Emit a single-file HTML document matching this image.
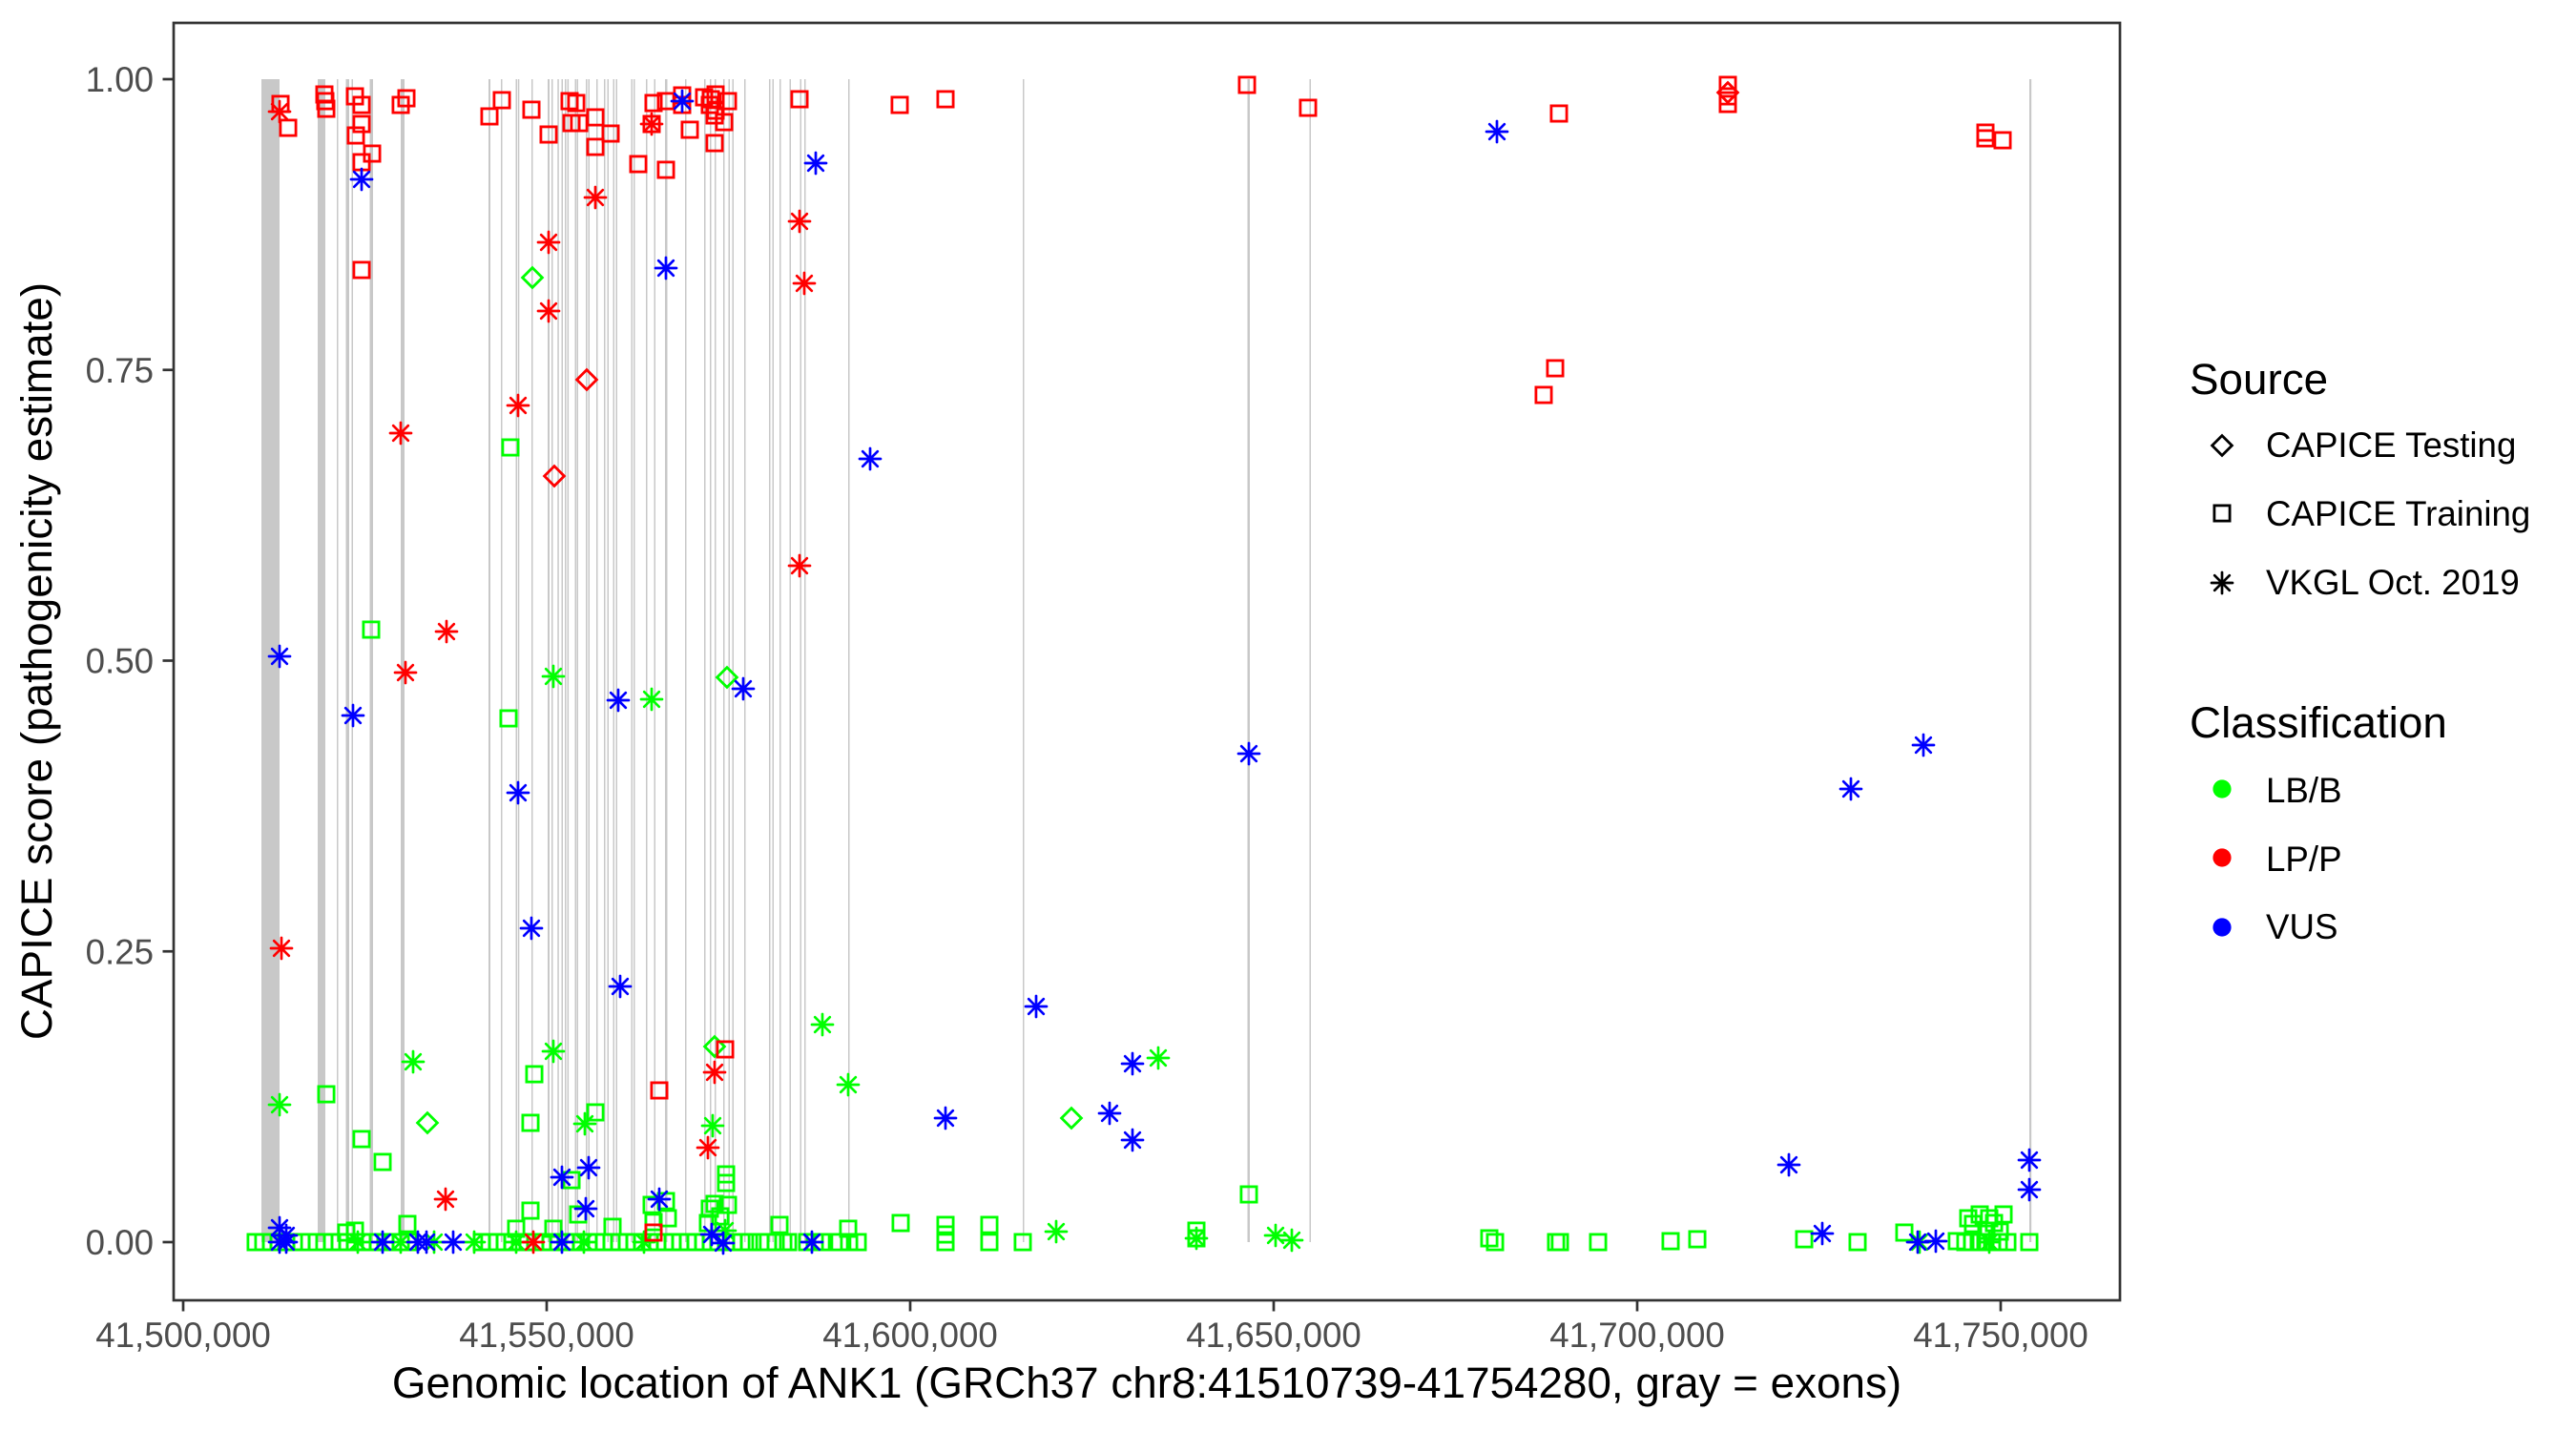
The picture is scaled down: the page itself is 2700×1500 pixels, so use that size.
<!DOCTYPE html>
<html><head><meta charset="utf-8"><style>
html,body{margin:0;padding:0;background:#fff}
svg{display:block}
.g{stroke:#00ff00}.r{stroke:#ff0000}.b{stroke:#0000ff}.k{stroke:#000}
text{font-family:"Liberation Sans",Arial,sans-serif}
</style></head><body>
<svg width="2700" height="1500" viewBox="0 0 2700 1500" xmlns="http://www.w3.org/2000/svg" xmlns:xlink="http://www.w3.org/1999/xlink">
<defs>
<rect id="S" x="-8.1" y="-8.1" width="16.2" height="16.2" fill="none" stroke-width="2.8"/>
<path id="D" d="M0,-10.4L10.4,0L0,10.4L-10.4,0Z" fill="none" stroke-width="2.8" stroke-linejoin="miter"/>
<path id="A" d="M0,-11V11M-11,0H11M-7.8,-7.8L7.8,7.8M-7.8,7.8L7.8,-7.8" fill="none" stroke-width="2.7" stroke-linecap="round"/>
</defs>
<rect width="2700" height="1500" fill="#fff"/>
<g fill="#c8c8c8">
<rect x="274" y="83" width="19" height="1219"/>
<rect x="333" y="83" width="8" height="1219"/>
<rect x="353" y="83" width="1.5" height="1219"/>
<rect x="362.5" y="83" width="3.5" height="1219"/>
<rect x="368.5" y="83" width="1.5" height="1219"/>
<rect x="387.5" y="83" width="3.5" height="1219"/>
<rect x="420" y="83" width="4" height="1219"/>
<rect x="512" y="83" width="2" height="1219"/>
<rect x="525" y="83" width="1.5" height="1219"/>
<rect x="540.5" y="83" width="1.5" height="1219"/>
<rect x="542.8" y="83" width="1.5" height="1219"/>
<rect x="557" y="83" width="1.5" height="1219"/>
<rect x="574" y="83" width="2" height="1219"/>
<rect x="578" y="83" width="1.5" height="1219"/>
<rect x="584.3" y="83" width="1.5" height="1219"/>
<rect x="588.5" y="83" width="1.5" height="1219"/>
<rect x="592" y="83" width="1.5" height="1219"/>
<rect x="594.6" y="83" width="1.5" height="1219"/>
<rect x="602.5" y="83" width="1.5" height="1219"/>
<rect x="604.5" y="83" width="1.5" height="1219"/>
<rect x="614" y="83" width="1.5" height="1219"/>
<rect x="616.5" y="83" width="1.5" height="1219"/>
<rect x="625" y="83" width="1.5" height="1219"/>
<rect x="633" y="83" width="1.5" height="1219"/>
<rect x="636.5" y="83" width="1.5" height="1219"/>
<rect x="642.5" y="83" width="1.5" height="1219"/>
<rect x="645.5" y="83" width="1.5" height="1219"/>
<rect x="661.5" y="83" width="1.5" height="1219"/>
<rect x="664" y="83" width="1.5" height="1219"/>
<rect x="677" y="83" width="1.5" height="1219"/>
<rect x="685.5" y="83" width="1.5" height="1219"/>
<rect x="697" y="83" width="2.5" height="1219"/>
<rect x="718" y="83" width="1.5" height="1219"/>
<rect x="738" y="83" width="1.5" height="1219"/>
<rect x="744" y="83" width="1.5" height="1219"/>
<rect x="749" y="83" width="1.5" height="1219"/>
<rect x="758" y="83" width="1.5" height="1219"/>
<rect x="763.5" y="83" width="1.5" height="1219"/>
<rect x="767.5" y="83" width="1.5" height="1219"/>
<rect x="780" y="83" width="1.5" height="1219"/>
<rect x="806" y="83" width="1.5" height="1219"/>
<rect x="809.5" y="83" width="1.5" height="1219"/>
<rect x="817" y="83" width="1.5" height="1219"/>
<rect x="827.5" y="83" width="1.5" height="1219"/>
<rect x="838.5" y="83" width="1.5" height="1219"/>
<rect x="843" y="83" width="1.5" height="1219"/>
<rect x="889" y="83" width="1.5" height="1219"/>
<rect x="1072" y="83" width="1.5" height="1219"/>
<rect x="1307.5" y="83" width="2.5" height="1219"/>
<rect x="1372.5" y="83" width="1.5" height="1219"/>
<rect x="2127" y="83" width="2.2" height="1219"/>
</g>
<g class="g">
<use href="#S" x="535" y="469"/><use href="#S" x="533" y="753"/><use href="#S" x="389" y="660"/><use href="#S" x="342" y="1147"/><use href="#S" x="379" y="1194"/><use href="#S" x="401" y="1218"/><use href="#S" x="560" y="1126"/><use href="#S" x="556" y="1177"/><use href="#S" x="624" y="1166"/><use href="#S" x="599" y="1237"/><use href="#S" x="556" y="1269"/><use href="#S" x="606" y="1273"/><use href="#S" x="761" y="1231"/><use href="#S" x="761" y="1240"/><use href="#S" x="763" y="1263"/><use href="#S" x="744" y="1267"/><use href="#S" x="749" y="1262"/><use href="#S" x="755" y="1275"/><use href="#S" x="742" y="1282"/><use href="#S" x="683" y="1263"/><use href="#S" x="698" y="1259"/><use href="#S" x="700" y="1277"/><use href="#S" x="685" y="1281"/><use href="#S" x="642" y="1286"/><use href="#S" x="817" y="1284"/><use href="#S" x="889" y="1288"/><use href="#S" x="944" y="1282"/><use href="#S" x="991" y="1284"/><use href="#S" x="991" y="1294"/><use href="#S" x="427" y="1283"/><use href="#S" x="363" y="1292"/><use href="#S" x="372" y="1290"/><use href="#S" x="541" y="1288"/><use href="#S" x="580" y="1288"/><use href="#S" x="1309" y="1252"/><use href="#S" x="1254" y="1290"/><use href="#S" x="1254" y="1298"/><use href="#S" x="1561" y="1298"/><use href="#S" x="1891" y="1299"/><use href="#S" x="1996" y="1292"/><use href="#S" x="2063" y="1277"/><use href="#S" x="2068" y="1283"/><use href="#S" x="2075" y="1273"/><use href="#S" x="2085" y="1277"/><use href="#S" x="2090" y="1282"/><use href="#S" x="2100" y="1273"/><use href="#S" x="2082" y="1290"/><use href="#S" x="2096" y="1291"/><use href="#S" x="1037" y="1284"/>
<use href="#S" x="268" y="1302"/><use href="#S" x="276" y="1302"/><use href="#S" x="284" y="1302"/><use href="#S" x="292" y="1302"/><use href="#S" x="300" y="1302"/><use href="#S" x="308" y="1302"/><use href="#S" x="316" y="1302"/><use href="#S" x="332" y="1302"/><use href="#S" x="340" y="1302"/><use href="#S" x="348" y="1302"/><use href="#S" x="356" y="1302"/><use href="#S" x="364" y="1302"/><use href="#S" x="372" y="1302"/><use href="#S" x="380" y="1302"/><use href="#S" x="388" y="1302"/><use href="#S" x="396" y="1302"/><use href="#S" x="404" y="1302"/><use href="#S" x="412" y="1302"/><use href="#S" x="420" y="1302"/><use href="#S" x="428" y="1302"/><use href="#S" x="505" y="1302"/><use href="#S" x="513" y="1302"/><use href="#S" x="521" y="1302"/><use href="#S" x="529" y="1302"/><use href="#S" x="537" y="1302"/><use href="#S" x="545" y="1302"/><use href="#S" x="553" y="1302"/><use href="#S" x="561" y="1302"/><use href="#S" x="569" y="1302"/><use href="#S" x="577" y="1302"/><use href="#S" x="585" y="1302"/><use href="#S" x="593" y="1302"/><use href="#S" x="601" y="1302"/><use href="#S" x="609" y="1302"/><use href="#S" x="617" y="1302"/><use href="#S" x="625" y="1302"/><use href="#S" x="633" y="1302"/><use href="#S" x="641" y="1302"/><use href="#S" x="649" y="1302"/><use href="#S" x="657" y="1302"/><use href="#S" x="665" y="1302"/><use href="#S" x="673" y="1302"/><use href="#S" x="681" y="1302"/><use href="#S" x="689" y="1302"/><use href="#S" x="697" y="1302"/><use href="#S" x="705" y="1302"/><use href="#S" x="713" y="1302"/><use href="#S" x="721" y="1302"/><use href="#S" x="729" y="1302"/><use href="#S" x="737" y="1302"/><use href="#S" x="745" y="1302"/><use href="#S" x="753" y="1302"/><use href="#S" x="761" y="1302"/><use href="#S" x="769" y="1302"/><use href="#S" x="777" y="1302"/><use href="#S" x="785" y="1302"/><use href="#S" x="797" y="1302"/><use href="#S" x="805" y="1302"/><use href="#S" x="813" y="1302"/><use href="#S" x="821" y="1302"/><use href="#S" x="826" y="1302"/><use href="#S" x="846" y="1302"/><use href="#S" x="854" y="1302"/><use href="#S" x="861" y="1302"/><use href="#S" x="880" y="1302"/><use href="#S" x="890" y="1302"/><use href="#S" x="899" y="1302"/><use href="#S" x="991" y="1302"/><use href="#S" x="1037" y="1302"/><use href="#S" x="1072" y="1302"/><use href="#S" x="1567" y="1302"/><use href="#S" x="1631" y="1302"/><use href="#S" x="1635" y="1302"/><use href="#S" x="1675" y="1302"/><use href="#S" x="1751" y="1301"/><use href="#S" x="1779" y="1299"/><use href="#S" x="1947" y="1302"/><use href="#S" x="2051" y="1301"/><use href="#S" x="2060" y="1302"/><use href="#S" x="2067" y="1302"/><use href="#S" x="2074" y="1302"/><use href="#S" x="2081" y="1302"/><use href="#S" x="2088" y="1302"/><use href="#S" x="2095" y="1302"/><use href="#S" x="2104" y="1302"/><use href="#S" x="2127" y="1302"/>
</g>
<g class="g">
<use href="#A" x="293" y="1158"/><use href="#A" x="433" y="1113"/><use href="#A" x="580" y="709"/><use href="#A" x="580" y="1102"/><use href="#A" x="613" y="1178"/><use href="#A" x="683" y="733"/><use href="#A" x="747" y="1180"/><use href="#A" x="862" y="1074"/><use href="#A" x="889" y="1137"/><use href="#A" x="1107" y="1291"/><use href="#A" x="1214" y="1109"/><use href="#A" x="1254" y="1298"/><use href="#A" x="1337" y="1295"/><use href="#A" x="1354" y="1300"/><use href="#A" x="497" y="1302"/><use href="#A" x="541" y="1302"/><use href="#A" x="612" y="1302"/><use href="#A" x="675" y="1302"/><use href="#A" x="760" y="1290"/><use href="#A" x="375" y="1302"/><use href="#A" x="420" y="1302"/><use href="#A" x="2012" y="1302"/><use href="#A" x="2085" y="1302"/><use href="#A" x="455" y="1302"/>
</g>
<g class="g">
<use href="#D" x="558" y="291"/><use href="#D" x="448" y="1177"/><use href="#D" x="749" y="1097"/><use href="#D" x="762" y="710"/><use href="#D" x="1123" y="1172"/>
</g>
<g class="r">
<use href="#S" x="294" y="109"/><use href="#S" x="302" y="134"/><use href="#S" x="340" y="99"/><use href="#S" x="341" y="106"/><use href="#S" x="342" y="114"/><use href="#S" x="372" y="101"/><use href="#S" x="379" y="110"/><use href="#S" x="379" y="130"/><use href="#S" x="373" y="142"/><use href="#S" x="390" y="161"/><use href="#S" x="379" y="170"/><use href="#S" x="426" y="103"/><use href="#S" x="420" y="110"/><use href="#S" x="379" y="283"/>
<use href="#S" x="513" y="122"/><use href="#S" x="526" y="105"/><use href="#S" x="557" y="115"/><use href="#S" x="575" y="141"/><use href="#S" x="597" y="106"/><use href="#S" x="604" y="108"/><use href="#S" x="599" y="129"/><use href="#S" x="607" y="129"/><use href="#S" x="624" y="123"/><use href="#S" x="640" y="140"/><use href="#S" x="624" y="154"/><use href="#S" x="669" y="172"/><use href="#S" x="685" y="108"/><use href="#S" x="698" y="106"/><use href="#S" x="715" y="100"/><use href="#S" x="715" y="110"/><use href="#S" x="698" y="178"/><use href="#S" x="723" y="136"/><use href="#S" x="738" y="102"/><use href="#S" x="750" y="99"/><use href="#S" x="744" y="110"/><use href="#S" x="750" y="116"/><use href="#S" x="763" y="106"/><use href="#S" x="759" y="128"/><use href="#S" x="749" y="150"/><use href="#S" x="745" y="104"/><use href="#S" x="749" y="121"/><use href="#S" x="838" y="104"/><use href="#S" x="683" y="130"/><use href="#S" x="943" y="110"/><use href="#S" x="991" y="104"/>
<use href="#S" x="1307" y="89"/><use href="#S" x="1371" y="113"/><use href="#S" x="1634" y="119"/><use href="#S" x="1618" y="414"/><use href="#S" x="1630" y="386"/><use href="#S" x="1811" y="89"/><use href="#S" x="1811" y="101"/><use href="#S" x="1811" y="109"/><use href="#S" x="2081" y="139"/><use href="#S" x="2081" y="145"/><use href="#S" x="2099" y="147"/>
<use href="#S" x="691" y="1143"/><use href="#S" x="760" y="1100"/><use href="#S" x="685" y="1292"/>
</g>
<g class="r">
<use href="#A" x="293" y="117"/><use href="#A" x="420" y="454"/><use href="#A" x="425" y="705"/><use href="#A" x="468" y="662"/><use href="#A" x="295" y="994"/><use href="#A" x="543" y="425"/><use href="#A" x="575" y="254"/><use href="#A" x="575" y="326"/><use href="#A" x="624" y="207"/><use href="#A" x="683" y="130"/><use href="#A" x="838" y="232"/><use href="#A" x="843" y="297"/><use href="#A" x="838" y="593"/><use href="#A" x="742" y="1203"/><use href="#A" x="749" y="1124"/><use href="#A" x="467" y="1257"/><use href="#A" x="559" y="1302"/>
</g>
<g class="r">
<use href="#D" x="615" y="398"/><use href="#D" x="581" y="499"/><use href="#D" x="1811" y="97"/>
</g>
<g class="b">
<use href="#A" x="379" y="188"/><use href="#A" x="715" y="106"/><use href="#A" x="698" y="281"/><use href="#A" x="855" y="171"/><use href="#A" x="912" y="481"/><use href="#A" x="293" y="688"/><use href="#A" x="370" y="750"/><use href="#A" x="543" y="831"/><use href="#A" x="557" y="973"/><use href="#A" x="650" y="1034"/><use href="#A" x="648" y="734"/><use href="#A" x="779" y="722"/><use href="#A" x="1309" y="790"/><use href="#A" x="1569" y="138"/><use href="#A" x="1940" y="827"/><use href="#A" x="2016" y="781"/><use href="#A" x="1875" y="1221"/><use href="#A" x="1910" y="1293"/><use href="#A" x="2127" y="1216"/><use href="#A" x="2127" y="1247"/><use href="#A" x="991" y="1172"/><use href="#A" x="1086" y="1055"/><use href="#A" x="1163" y="1167"/><use href="#A" x="1187" y="1115"/><use href="#A" x="1187" y="1195"/>
<use href="#A" x="589" y="1234"/><use href="#A" x="617" y="1224"/><use href="#A" x="614" y="1267"/><use href="#A" x="691" y="1257"/><use href="#A" x="746" y="1294"/><use href="#A" x="758" y="1303"/><use href="#A" x="851" y="1302"/><use href="#A" x="447" y="1302"/><use href="#A" x="475" y="1302"/><use href="#A" x="589" y="1302"/><use href="#A" x="401" y="1302"/><use href="#A" x="293" y="1287"/><use href="#A" x="293" y="1302"/><use href="#A" x="300" y="1295"/><use href="#A" x="300" y="1302"/><use href="#A" x="2010" y="1302"/><use href="#A" x="2029" y="1301"/><use href="#A" x="438" y="1302"/>
</g>
<rect x="182" y="24" width="2040" height="1339" fill="none" stroke="#333333" stroke-width="2.7"/>
<g stroke="#333333" stroke-width="2.7">
<line x1="170.5" y1="83" x2="182" y2="83"/><line x1="170.5" y1="387.75" x2="182" y2="387.75"/><line x1="170.5" y1="692.5" x2="182" y2="692.5"/><line x1="170.5" y1="997.25" x2="182" y2="997.25"/><line x1="170.5" y1="1302" x2="182" y2="1302"/>
<line x1="192" y1="1363" x2="192" y2="1374.5"/><line x1="573" y1="1363" x2="573" y2="1374.5"/><line x1="954" y1="1363" x2="954" y2="1374.5"/><line x1="1335" y1="1363" x2="1335" y2="1374.5"/><line x1="1716" y1="1363" x2="1716" y2="1374.5"/><line x1="2097" y1="1363" x2="2097" y2="1374.5"/>
</g>
<g fill="#4d4d4d" font-size="36.7" text-anchor="end">
<text x="161" y="96">1.00</text><text x="161" y="400.75">0.75</text><text x="161" y="705.5">0.50</text><text x="161" y="1010.25">0.25</text><text x="161" y="1315">0.00</text>
</g>
<g fill="#4d4d4d" font-size="36.7" text-anchor="middle">
<text x="192" y="1412">41,500,000</text><text x="573" y="1412">41,550,000</text><text x="954" y="1412">41,600,000</text><text x="1335" y="1412">41,650,000</text><text x="1716" y="1412">41,700,000</text><text x="2097" y="1412">41,750,000</text>
</g>
<text x="1202" y="1465" font-size="45.8" text-anchor="middle" fill="#000">Genomic location of ANK1 (GRCh37 chr8:41510739-41754280, gray = exons)</text>
<text transform="translate(54,693) rotate(-90)" font-size="45.8" text-anchor="middle" fill="#000">CAPICE score (pathogenicity estimate)</text>
<text x="2295" y="413" font-size="45.8" fill="#000">Source</text>
<use href="#D" x="2329" y="467" class="k"/>
<use href="#S" x="2329" y="538" class="k"/>
<use href="#A" x="2329" y="611" class="k"/>
<g font-size="36.7" fill="#000">
<text x="2375" y="479">CAPICE Testing</text>
<text x="2375" y="551">CAPICE Training</text>
<text x="2375" y="623">VKGL Oct. 2019</text>
</g>
<text x="2295" y="773" font-size="45.8" fill="#000">Classification</text>
<circle cx="2329" cy="827" r="9.6" fill="#00ff00"/>
<circle cx="2329" cy="899" r="9.6" fill="#ff0000"/>
<circle cx="2329" cy="972" r="9.6" fill="#0000ff"/>
<g font-size="36.7" fill="#000">
<text x="2375" y="841">LB/B</text>
<text x="2375" y="913">LP/P</text>
<text x="2375" y="984">VUS</text>
</g>
</svg>
</body></html>
